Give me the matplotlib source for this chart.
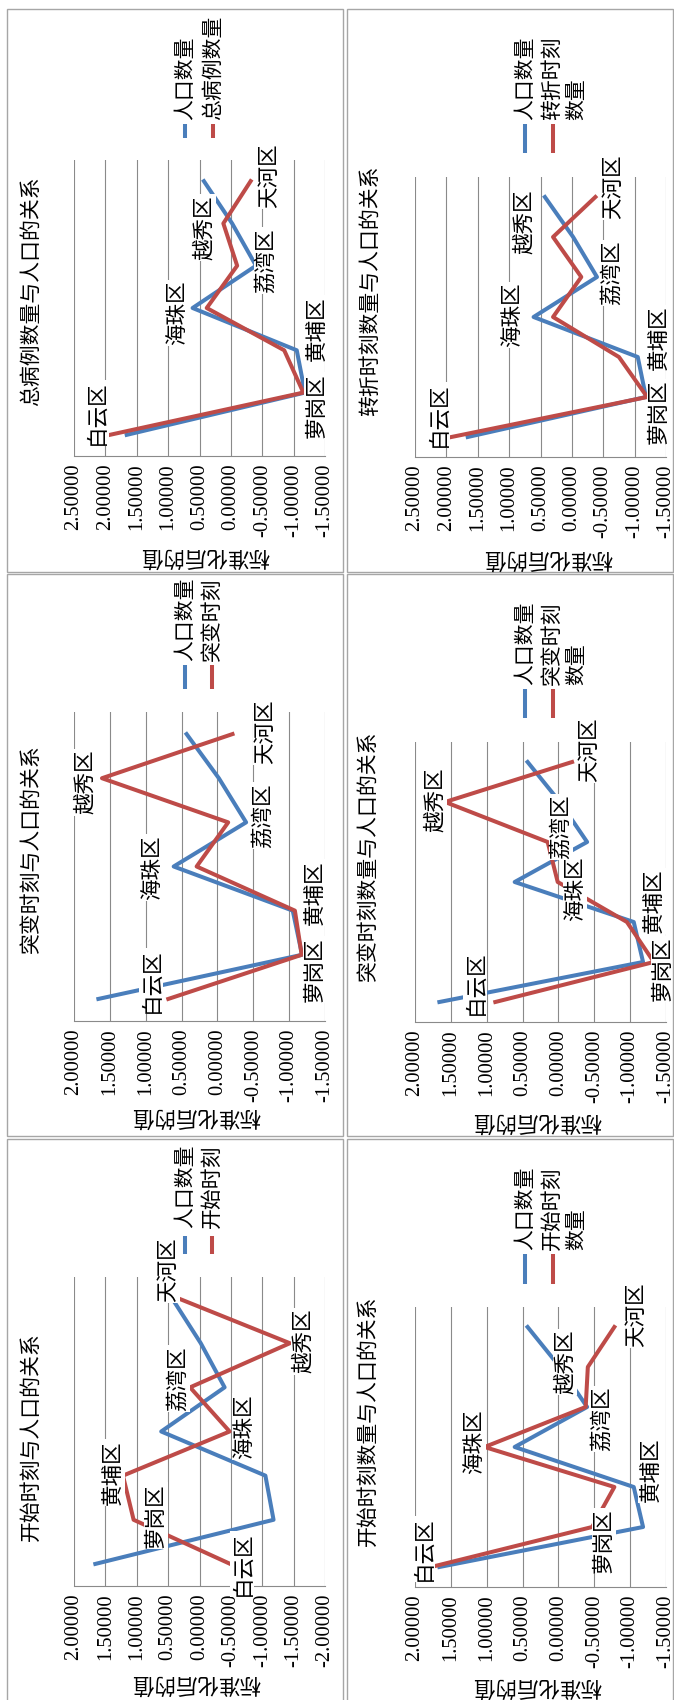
import matplotlib
matplotlib.use("Agg")
import matplotlib.pyplot as plt
import numpy as np
from matplotlib.lines import Line2D
from matplotlib.patches import Rectangle

# standardized values per district, in category order
districts = ["白云区", "萝岗区", "黄埔区", "海珠区", "荔湾区", "越秀区", "天河区"]
population = [1.66, -1.18, -1.05, 0.61, -0.40, -0.02, 0.43]
start_time = [-0.49, 1.05, 1.22, -0.48, 0.15, -1.44, 0.31]
jump_time = [0.685, -1.175, -1.08, 0.29, -0.15, 1.61, -0.21]
total_cases = [1.93, -1.155, -0.85, 0.385, -0.10, 0.12, -0.315]
start_count = [1.775, -0.47, -0.78, 1.03, -0.38, -0.41, -0.78]
jump_count = [0.88, -1.33, -0.955, 0.01, 0.15, 1.58, -0.19]
turn_count = [1.92, -1.20, -0.75, 0.30, -0.15, 0.30, -0.375]

W, H = 674, 1700
BLUE = "#4A7EBB"
RED = "#BE4B48"
GRID = "#8A8A8A"
BORDER = "#A6A6A6"
CJK = ["Noto Sans CJK SC", "DejaVu Sans"]
SERIF = ["Liberation Serif", "DejaVu Serif"]

plt.rcParams["font.family"] = CJK

fig = plt.figure(figsize=(W / 100, H / 100), dpi=100)


def fx(x):
    return x / W


def fy(y):
    return 1 - y / H


# the sheet is turned on its side: value axis runs right-to-left, categories bottom-to-top
panels = [
    dict(series=start_time, name="开始时刻", title="开始时刻与人口的关系",
         box=(74, 1277, 325, 1586), vmax=2.0, vmin=-2.0,
         title_xy=(31, 1437), ytitle_xy=(196, 1683),
         leg_x=(185, 212), leg_y=1228, handle=(1236, 1254),
         offsets=[(12, 0), (22, -4), (-10, -3), (14, -5), (-12, -9), (13, -2), (-12, -29)]),
    dict(series=jump_time, name="突变时刻", title="突变时刻与人口的关系",
         box=(74, 712, 325, 1021), vmax=2.0, vmin=-1.5,
         title_xy=(31, 849), ytitle_xy=(196, 1116),
         leg_x=(185, 212), leg_y=661, handle=(665, 689),
         offsets=[(-17, -18), (13, 15), (20, -18), (-45, 1), (35, -7), (-17, 4), (33, -2)]),
    dict(series=total_cases, name="总病例数量", title="总病例数量与人口的关系",
         box=(74, 160, 325, 456), vmax=2.5, vmin=-1.5,
         title_xy=(31, 291), ytitle_xy=(205, 556),
         leg_x=(185, 213), leg_y=120, handle=(124, 138),
         offsets=[(-13, -22), (13, 13), (33, -22), (-30, 5), (29, -5), (-19, 4), (18, -5)]),
    dict(series=start_count, name="开始时刻\n数量", title="开始时刻数量与人口的关系",
         box=(415, 1307, 666, 1587), vmax=2.0, vmin=-1.5,
         title_xy=(368, 1421), ytitle_xy=(537, 1686),
         leg_x=(525, 564), leg_y=1250, handle=(1254, 1284),
         offsets=[(-8, -18), (12, 14), (36, -17), (-11, -5), (16, 12), (-23, -5), (22, -12)]),
    dict(series=jump_count, name="突变时刻\n数量", title="突变时刻数量与人口的关系",
         box=(415, 742, 666, 1022), vmax=2.0, vmin=-1.5,
         title_xy=(368, 856), ytitle_xy=(537, 1121),
         leg_x=(525, 564), leg_y=685, handle=(689, 718),
         offsets=[(-20, -19), (9, 7), (27, -21), (17, 7), (13, -15), (-10, -2), (17, -12)]),
    dict(series=turn_count, name="转折时刻\n数量", title="转折时刻数量与人口的关系",
         box=(415, 177, 666, 457), vmax=2.5, vmin=-1.5,
         title_xy=(370, 291), ytitle_xy=(548, 558),
         leg_x=(525, 564), leg_y=120, handle=(124, 153),
         offsets=[(-13, -22), (12, 15), (40, -19), (-41, -2), (31, -4), (-29, -15), (18, -10)]),
]

# chart borders
for x0, x1 in [(7, 342.7), (346.7, 673.3)]:
    for y0, y1 in [(9.3, 571.7), (574.3, 1136), (1139.3, 1710)]:
        fig.add_artist(Rectangle((fx(x0), fy(y1)), fx(x1 - x0), (y1 - y0) / H,
                                 transform=fig.transFigure, fill=False,
                                 ec=BORDER, lw=1.0))

cats = np.arange(len(districts))

for p in panels:
    x0, y0, x1, y1 = p["box"]
    ax = fig.add_axes([fx(x0), fy(y1), fx(x1 - x0), (y1 - y0) / H])
    ax.patch.set_alpha(0)

    ax.plot(population, cats, color=BLUE, lw=2.9, solid_joinstyle="round", zorder=3)
    ax.plot(p["series"], cats, color=RED, lw=2.9, solid_joinstyle="round", zorder=3)

    for i, name in enumerate(districts):
        dx, dy = p["offsets"][i]
        ax.annotate(name, (p["series"][i], cats[i]), xytext=(dx, -dy),
                    textcoords="offset pixels", rotation=90, ha="center",
                    va="center", fontsize=15.5, zorder=5,
                    bbox=dict(boxstyle="square,pad=0.05", fc="white", ec="none"))

    ticks = np.arange(p["vmin"], p["vmax"] + 0.01, 0.5)
    ax.set_xlim(p["vmax"], p["vmin"])
    ax.set_ylim(-0.5, len(districts) - 0.5)
    ax.set_xticks(ticks)
    ax.set_xticklabels([f"{t:.5f}" for t in ticks], rotation=90, va="top",
                       ha="center", family=SERIF, fontsize=14.8)
    ax.set_yticks([])
    ax.tick_params(axis="x", length=0, pad=5.5)
    ax.grid(axis="x", color=GRID, lw=0.8, zorder=0)
    for side in ["top", "left", "right"]:
        ax.spines[side].set_visible(False)
    ax.spines["bottom"].set_color(GRID)
    ax.spines["bottom"].set_linewidth(0.8)

    tx, ty = p["title_xy"]
    fig.text(fx(tx), fy(ty), p["title"], rotation=90, ha="center", va="center",
             fontsize=15)
    ax_x, ax_y = p["ytitle_xy"]
    fig.text(fx(ax_x), fy(ax_y), "标准化后的值", rotation=180, ha="center",
             va="center", fontsize=15.5)

    # legend entries: short upright handle with the label reading upwards above it
    h0, h1 = p["handle"]
    for lx, label, color in [(p["leg_x"][0], "人口数量", BLUE),
                             (p["leg_x"][1], p["name"], RED)]:
        hx = lx if "\n" not in label else lx - 11
        fig.add_artist(Line2D([fx(hx), fx(hx)], [fy(h0), fy(h1)],
                              transform=fig.transFigure, color=color, lw=2.9,
                              solid_capstyle="butt"))
        fig.text(fx(lx), fy(p["leg_y"]), label, rotation=90, ha="center",
                 va="bottom", fontsize=15, multialignment="left",
                 linespacing=1.1)

fig.savefig("out.png", dpi=100)
